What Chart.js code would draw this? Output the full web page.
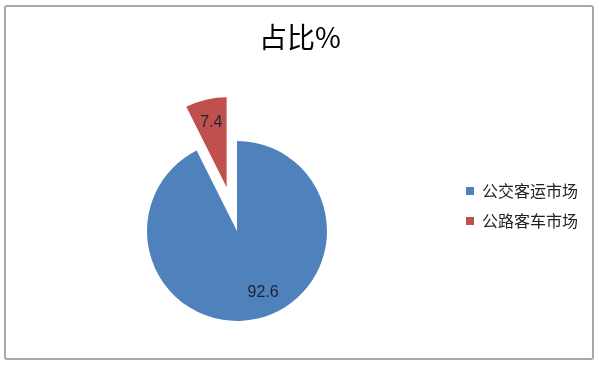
<!DOCTYPE html>
<html>
<head>
<meta charset="utf-8">
<script src="https://cdn.jsdelivr.net/npm/chart.js@4/dist/chart.umd.min.js"></script>
<style>
  body { margin: 0; background: #fff; }
  #wrap { position: relative; width: 600px; height: 365px; }
  canvas { position: absolute; left: 0; top: 0; }
  #frame {
    position: absolute; left: 4px; top: 5px; width: 590px; height: 355px;
    box-sizing: border-box; border: 2px solid #a8a8a8; border-radius: 3px;
    pointer-events: none;
  }
</style>
</head>
<body>
<div id="wrap">
  <canvas id="pie" width="600" height="365"></canvas>
  <div id="frame"></div>
</div>
<script>
const chartTitle = "占比%";
const categories = ["公交客运市场", "公路客车市场"];
const shares = [92.6, 7.4];

const colors = ["#4f81bd", "#c0504d"];
const pieCenter = { x: 237, y: 231 };
const legendSpot = { left: 452, top: 169 };

// put the pie and the legend where the original has them
const placeParts = {
  id: "placeParts",
  afterLayout(chart) {
    const half = 150;
    chart.chartArea = {
      left: pieCenter.x - half, right: pieCenter.x + half,
      top: pieCenter.y - half, bottom: pieCenter.y + half,
      width: half * 2, height: half * 2
    };
    const lg = chart.legend;
    lg.left = legendSpot.left;
    lg.right = legendSpot.left + lg.width;
    lg.top = legendSpot.top;
    lg.bottom = legendSpot.top + 80;
    lg.height = 80;
  },
  // pull slices out along their middle angle (no radius change)
  afterDatasetUpdate(chart, args) {
    const ds = chart.data.datasets[args.index];
    const meta = chart.getDatasetMeta(args.index);
    meta.data.forEach((arc, i) => {
      const d = (ds.explode || [])[i] || 0;
      if (!d) return;
      const mid = (arc.startAngle + arc.endAngle) / 2;
      arc.x += Math.cos(mid) * d;
      arc.y += Math.sin(mid) * d;
    });
  }
};

// value labels inside the slices; big slice label sits a bit right of its middle, like Excel's best fit
const sliceLabels = {
  id: "sliceLabels",
  afterDatasetsDraw(chart) {
    const ctx = chart.ctx;
    const meta = chart.getDatasetMeta(0);
    ctx.save();
    ctx.font = "16px 'Liberation Sans', Arial, sans-serif";
    ctx.fillStyle = "#1c2430";
    ctx.textAlign = "center";
    ctx.textBaseline = "middle";
    meta.data.forEach((arc, i) => {
      let mid = (arc.startAngle + arc.endAngle) / 2;
      if (arc.endAngle - arc.startAngle > Math.PI) mid -= 0.17;
      const r = arc.outerRadius * 0.74;
      ctx.fillText(shares[i].toFixed(1), arc.x + Math.cos(mid) * r, arc.y + Math.sin(mid) * r);
    });
    ctx.restore();
  }
};

new Chart(document.getElementById("pie"), {
  type: "pie",
  data: {
    labels: categories,
    datasets: [{
      data: shares,
      backgroundColor: colors,
      borderWidth: 0,
      explode: [0, 45]
    }]
  },
  options: {
    responsive: false,
    animation: false,
    radius: 90,
    plugins: {
      title: {
        display: true,
        text: chartTitle,
        color: "#000",
        font: { family: "'Noto Sans CJK SC', sans-serif", size: 28, weight: "normal" },
        padding: { top: 21, bottom: 0 }
      },
      legend: {
        position: "right",
        align: "start",
        labels: {
          boxWidth: 8,
          boxHeight: 8,
          padding: 14,
          color: "#222",
          font: { family: "'Noto Sans CJK SC', sans-serif", size: 16 }
        }
      },
      tooltip: { enabled: false }
    }
  },
  plugins: [placeParts, sliceLabels]
});
</script>
</body>
</html>
